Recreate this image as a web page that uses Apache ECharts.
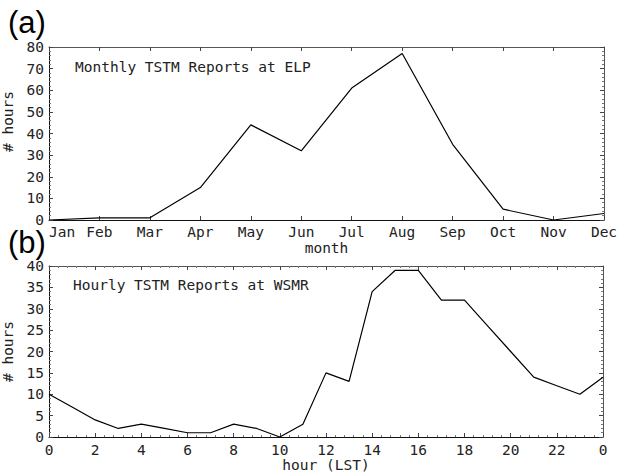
<!DOCTYPE html>
<html>
<head>
<meta charset="utf-8">
<script src="https://cdn.jsdelivr.net/npm/echarts@6/dist/echarts.min.js"></script>
<style>
  html, body { margin: 0; padding: 0; background: #fff; }
  #chart { width: 621px; height: 472px; }
</style>
</head>
<body>
<div id="chart"></div>
<script>
const MONTHS = ["Jan", "Feb", "Mar", "Apr", "May", "Jun", "Jul", "Aug", "Sep", "Oct", "Nov", "Dec"];
const MONTHLY_HOURS = [0, 1, 1, 15, 44, 32, 61, 77, 35, 5, 0, 3];
const HOURS = [0, 1, 2, 3, 4, 5, 6, 7, 8, 9, 10, 11, 12, 13, 14, 15, 16, 17, 18, 19, 20, 21, 22, 23, 24];
const HOURLY_HOURS = [10, 7, 4, 2, 3, 2, 1, 1, 3, 2, 0, 3, 15, 13, 34, 39, 39, 32, 32, 26, 20, 14, 12, 10, 14];

const FONT = "DejaVu Sans Mono";
const FONT_SIZE = 14.5;
const INK = "#222";

const chart = echarts.init(document.getElementById("chart"), null, { renderer: "svg" });

// shared frame / tick look (ticks drawn inside the box, IDL style)
const tickStyle = {
  axisLine: { show: true, onZero: false, lineStyle: { color: "#111", width: 1 } },
  axisTick: { show: true, inside: true, length: 4, lineStyle: { color: "#444" } },
  minorTick: { show: true, length: 2, lineStyle: { color: "#777" } },
  splitLine: { show: false }
};

const labelStyle = { color: INK, fontFamily: FONT, fontSize: FONT_SIZE };
const nameStyle = { color: INK, fontFamily: FONT, fontSize: FONT_SIZE };
const panelTag = { fontFamily: "Liberation Sans", fontSize: 31, lineHeight: 26, fontWeight: "normal", color: "#000" };

function mirror(base, position) {
  return Object.assign({}, base, {
    position,
    axisLabel: { show: false },
    name: "",
    axisLine: { show: true, onZero: false, lineStyle: { color: "#555", width: 1 } }
  });
}

const xA = Object.assign({
  type: "category",
  gridIndex: 0,
  data: MONTHS,
  boundaryGap: false,
  position: "bottom",
  name: "month",
  nameLocation: "middle",
  nameGap: 20,
  nameTextStyle: nameStyle,
  axisLabel: Object.assign({ margin: 4, alignMinLabel: "left" }, labelStyle)
}, tickStyle, {
  minorTick: { show: false },
  axisTick: { show: true, inside: true, length: 4, alignWithLabel: true, lineStyle: { color: "#444" } }
});

const xB = Object.assign({
  type: "value",
  gridIndex: 1,
  min: 0,
  max: 24,
  interval: 2,
  position: "bottom",
  name: "hour (LST)",
  nameLocation: "middle",
  nameGap: 19,
  nameTextStyle: nameStyle,
  axisLabel: Object.assign({ margin: 5, formatter: v => String(v % 24) }, labelStyle)
}, tickStyle);

const yA = Object.assign({
  type: "value",
  gridIndex: 0,
  min: 0,
  max: 80,
  interval: 10,
  position: "left",
  name: "# hours",
  nameLocation: "middle",
  nameGap: 30,
  nameTextStyle: Object.assign({ padding: [0, 0, 0, 24] }, nameStyle),
  axisLabel: Object.assign({ margin: 5 }, labelStyle)
}, tickStyle);

const yB = Object.assign({
  type: "value",
  gridIndex: 1,
  min: 0,
  max: 40,
  interval: 5,
  position: "left",
  name: "# hours",
  nameLocation: "middle",
  nameGap: 30,
  nameTextStyle: nameStyle,
  axisLabel: Object.assign({ margin: 5 }, labelStyle)
}, tickStyle);

chart.setOption({
  animation: false,
  backgroundColor: "#fff",
  grid: [
    { left: 49, right: 17, top: 47, height: 173, containLabel: false, outerBoundsMode: "none" },
    { left: 49, right: 18, top: 266, height: 171, containLabel: false, outerBoundsMode: "none" }
  ],
  title: [
    { text: "(a)", left: 8, top: 9, padding: 0, textStyle: panelTag },
    { text: "(b)", left: 8, top: 229, padding: 0, textStyle: panelTag },
    { text: "Monthly TSTM Reports at ELP", left: 70, top: 54, textStyle: { fontFamily: FONT, fontSize: FONT_SIZE, fontWeight: "normal", color: INK } },
    { text: "Hourly TSTM Reports at WSMR", left: 68, top: 272, textStyle: { fontFamily: FONT, fontSize: FONT_SIZE, fontWeight: "normal", color: INK } }
  ],
  xAxis: [
    xA,
    mirror(xA, "top"),
    xB,
    mirror(xB, "top")
  ],
  yAxis: [
    yA,
    mirror(yA, "right"),
    yB,
    mirror(yB, "right")
  ],
  series: [
    {
      type: "line",
      xAxisIndex: 0,
      yAxisIndex: 0,
      data: MONTHLY_HOURS,
      showSymbol: false,
      lineStyle: { color: "#000", width: 1.2 }
    },
    {
      type: "line",
      xAxisIndex: 2,
      yAxisIndex: 2,
      data: HOURS.map((h, i) => [h, HOURLY_HOURS[i]]),
      showSymbol: false,
      lineStyle: { color: "#000", width: 1.2 }
    }
  ]
});
</script>
</body>
</html>
